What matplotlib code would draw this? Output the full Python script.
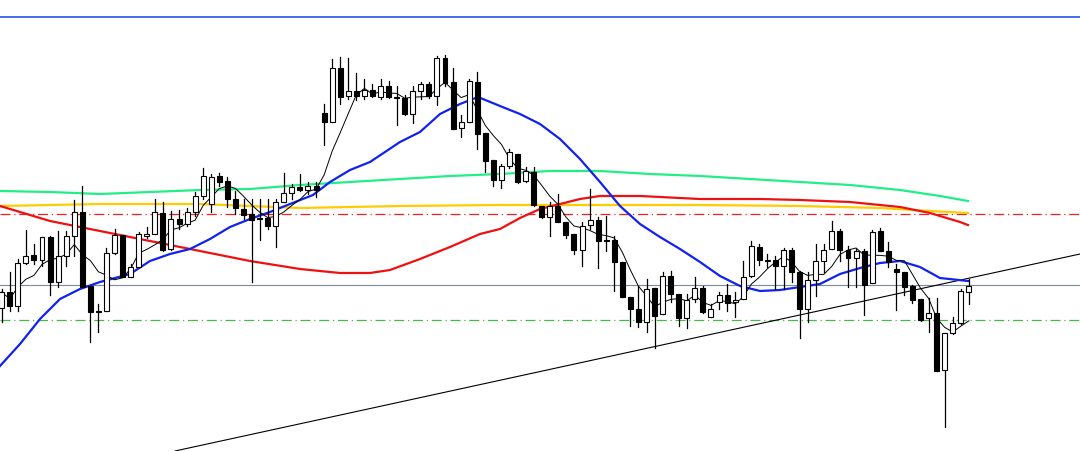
import numpy as np
import pandas as pd
import matplotlib.pyplot as plt
from matplotlib.patches import Rectangle

# candle values in chart units (y axis is inverted: smaller = higher price)
op = [309,293,307,264,256,261,238,283,257,237,213,287,312,312,254,236,278,268,237,235,
      214,250,220,225,213,197,205,177,182,200,210,215,219,219,227,203,194,188,191,187,
      114,123,69,97,92,97,91,98,87,98,99,115,92,85,97,59,83,129,123,83,
      134,161,181,167,155,182,173,207,218,207,223,235,251,226,221,241,241,263,298,310,
      323,289,315,277,295,319,300,289,318,303,296,303,300,277,248,261,261,267,251,273,
      310,281,262,250,232,251,259,252,284,232,252,270,273,287,300,319,314,371,334,324,293]
cl = [293,307,264,257,261,238,283,257,237,213,288,313,313,254,236,278,268,235,235,213,
      251,220,225,213,197,177,178,183,200,209,216,221,220,227,203,194,188,191,187,191,
      123,69,98,92,97,91,97,87,98,99,115,92,85,97,59,84,130,123,82,135,
      162,181,167,153,183,172,206,218,207,223,236,251,227,221,242,242,263,298,310,323,
      290,317,277,295,319,301,289,313,310,296,304,301,278,247,261,262,267,251,273,310,
      281,262,251,232,251,259,252,286,233,252,263,273,288,301,321,314,372,334,324,292,287]
hi = [290,273,260,231,245,238,237,232,232,201,187,287,305,249,230,236,265,233,228,200,
      203,212,211,209,193,169,175,174,178,192,200,200,200,200,200,174,185,175,183,183,
      105,60,58,59,74,80,85,80,82,87,96,87,83,83,57,56,69,116,80,73,
      134,161,165,150,155,168,168,207,203,195,223,235,223,190,218,217,237,263,298,287,
      280,289,273,272,295,295,278,287,305,293,285,293,262,242,245,255,257,249,249,272,
      273,245,245,222,230,247,250,250,231,229,243,265,273,286,300,299,299,334,318,290,280]
lo = [323,312,312,265,265,267,296,288,267,257,288,343,333,312,255,278,278,268,239,235,
      252,251,230,227,217,200,213,187,208,215,220,283,241,230,248,203,200,192,195,198,
      146,123,105,100,101,100,98,100,99,126,116,124,100,99,106,87,130,138,123,150,
      173,187,189,169,184,183,207,219,237,223,239,255,267,230,269,252,292,298,327,328,
      333,349,315,303,327,329,303,314,318,310,312,318,300,278,266,268,290,290,283,339,
      323,297,273,250,262,288,288,316,284,252,268,311,296,304,322,333,372,428,335,325,305]

# moving averages: (pixel x, chart y)
blue_x = [0,20,40,60,80,100,130,150,170,190,210,230,250,270,290,313,330,350,370,400,420,440,460,
          478,500,520,540,560,580,600,620,640,660,680,700,720,740,760,780,800,820,840,860,880,900,920,940,968]
blue_y = [367,345,320,300,290,283,275,262,255,250,240,228,220,213,205,196,183,171,163,143,133,115,105,
          98,107,115,125,140,160,183,207,225,238,250,263,277,287,292,291,288,285,275,269,264,262,268,279,282]
red_x = [0,50,100,150,200,250,300,340,370,390,420,450,480,500,520,540,560,580,600,640,700,760,800,850,900,930,960,968]
red_y = [207,222,232,242,252,262,270,274,274,271,260,248,235,230,219,210,205,200,197,197,200,200,201,203,208,214,223,226]
green_x = [0,50,100,150,200,250,300,350,400,450,500,550,600,650,700,750,800,850,900,940,968]
green_y = [192,193,195,193,191,190,186,183,180,177,175,172,172,175,177,180,183,186,191,197,202]
gold_x = [0,100,200,300,400,500,600,700,800,880,930,968]
gold_y = [207,205,205,209,207,206,206,206,207,209,212,214]

# horizontal levels and trend line (chart y)
top_level = 18
red_level = 215
grey_level = 286
green_level = 321
trend_x = [175, 1080]
trend_y = [452, 255]

X0, STEP = 1.7, 8.06
def to_idx(px):
    return (np.asarray(px, dtype=float) - X0) / STEP

fig = plt.figure(figsize=(10.8, 4.52), dpi=100)
ax = fig.add_axes([0, 0, 1, 1])
ax.set_xlim(to_idx(0), to_idx(1080))
ax.set_ylim(452, 0)
ax.axis('off')

ax.axhline(top_level, color='#2255ee', lw=1.2)
ax.axhline(red_level, color='#ee2222', lw=0.9, ls=(0, (8, 3, 1, 3)))
ax.axhline(grey_level, color='#7a8a9a', lw=0.8)
ax.axhline(green_level, color='#44bb44', lw=0.9, ls=(0, (8, 3, 1, 3)))
ax.plot(to_idx(trend_x), trend_y, color='black', lw=0.8)

ax.plot(to_idx(green_x), green_y, color='#22ee88', lw=1.6)
ax.plot(to_idx(gold_x), gold_y, color='#ffcc00', lw=1.6)
ax.plot(to_idx(red_x), red_y, color='#ee1111', lw=1.6)
ax.plot(to_idx(blue_x), blue_y, color='#1122ee', lw=1.6)

idx = np.arange(len(op))
fast = pd.Series(cl).rolling(5, min_periods=1).mean()
ax.plot(idx, fast, color='black', lw=0.7)

w = 0.62
for i in idx:
    o, c = op[i], cl[i]
    ax.plot([i, i], [hi[i], lo[i]], color='black', lw=0.9, zorder=3)
    top, bot = min(o, c), max(o, c)
    face = 'white' if c < o else 'black'
    ax.add_patch(Rectangle((i - w / 2, top), w, max(bot - top, 1), facecolor=face,
                           edgecolor='black', lw=0.8, zorder=4))

fig.savefig('out.png', dpi=100)
